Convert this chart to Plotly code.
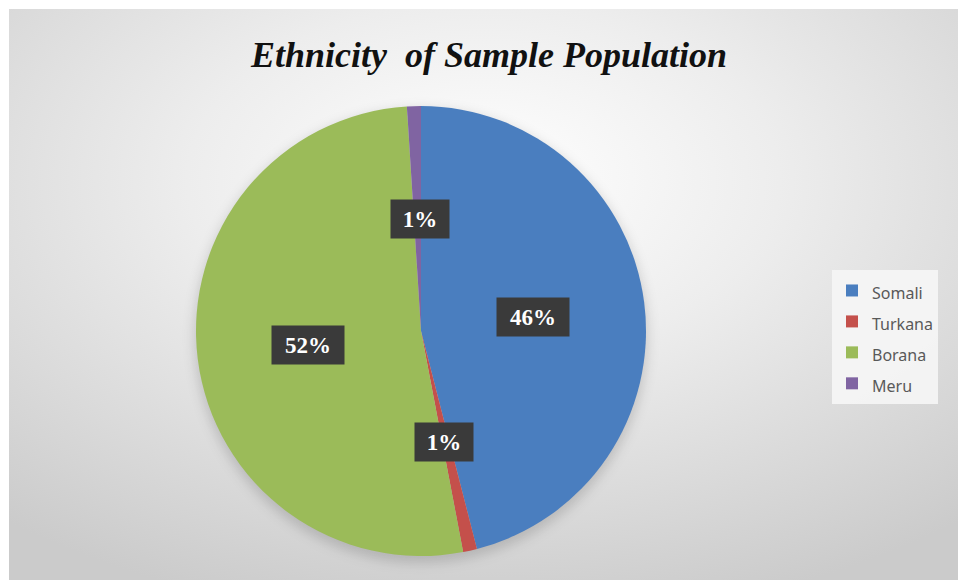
import base64
import plotly.graph_objects as go

# ---- data ----
CATEGORIES = ["Somali", "Turkana", "Borana", "Meru"]
VALUES = [46, 1, 52, 1]
COLORS = ["#4a7ebf", "#c4504b", "#9bbb59", "#8064a2"]
TITLE = "Ethnicity\u00a0 of Sample Population"

# ---- layout (pixels) ----
W, H = 958, 580
PIE_CX, PIE_CY, PIE_R = 421, 331, 225
# centres of the percentage label boxes, same order as CATEGORIES
LABEL_XY = [(533, 317), (444, 442), (308, 345), (420, 219)]

svg = f'''<svg xmlns="http://www.w3.org/2000/svg" width="{W}" height="{H}" viewBox="0 0 {W} {H}" preserveAspectRatio="none">
<defs>
<radialGradient id="g" cx="0.5" cy="0.3" r="0.78">
<stop offset="0" stop-color="#ffffff"/>
<stop offset="0.4" stop-color="#ededed"/>
<stop offset="1" stop-color="#cbcbcb"/>
</radialGradient>
<filter id="b" x="-20%" y="-20%" width="140%" height="140%"><feGaussianBlur stdDeviation="6"/></filter>
</defs>
<rect x="0" y="0" width="{W}" height="{H}" fill="#ffffff"/>
<rect x="9" y="9" width="{W-9}" height="{H-9}" fill="url(#g)"/>
<circle cx="{PIE_CX}" cy="{PIE_CY+5}" r="{PIE_R+2}" fill="#000" fill-opacity="0.15" filter="url(#b)"/>
</svg>'''
bg_src = "data:image/svg+xml;base64," + base64.b64encode(svg.encode()).decode()

total = sum(VALUES)
pcts = [round(v / total * 100) for v in VALUES]
legend_labels = [f"<span style='font-size:16px'>{c}</span>" for c in CATEGORIES]

fig = go.Figure(go.Pie(
    labels=legend_labels,
    values=VALUES,
    sort=False,
    direction="clockwise",
    rotation=0,
    marker=dict(colors=COLORS, line=dict(width=0)),
    textinfo="none",
    hoverinfo="skip",
    domain=dict(x=[(PIE_CX - PIE_R) / W, (PIE_CX + PIE_R) / W],
                y=[1 - (PIE_CY + PIE_R) / H, 1 - (PIE_CY - PIE_R) / H]),
))

annotations = []
for p, (lx, ly) in zip(pcts, LABEL_XY):
    txt = f"{p}%"
    annotations.append(dict(
        text=txt, x=lx / W, y=1 - ly / H, xref="paper", yref="paper",
        xanchor="center", yanchor="middle", showarrow=False,
        bgcolor="#3a3a3a", width=14 * len(txt) + 28, height=36,
        font=dict(family="Liberation Serif", size=23, color="white", weight="bold"),
    ))

fig.update_layout(
    width=W, height=H,
    margin=dict(l=0, r=0, t=0, b=0),
    paper_bgcolor="white",
    images=[dict(source=bg_src, xref="paper", yref="paper", x=0, y=1,
                 sizex=1, sizey=1, sizing="stretch", xanchor="left",
                 yanchor="top", layer="below")],
    title=dict(text=TITLE, x=489 / W, y=1 - 54 / H, xanchor="center",
               yanchor="middle",
               font=dict(family="Liberation Serif", size=36, color="#111111",
                         weight="bold", style="italic")),
    showlegend=True,
    legend=dict(x=832 / W, y=1 - 270 / H, xanchor="left", yanchor="top",
                bgcolor="rgba(244,244,244,0.95)", borderwidth=0,
                itemwidth=30,
                font=dict(family="Noto Sans", size=21.5, color="#595959")),
    annotations=annotations,
)

fig.write_html(
    "out.html",
    config={"displayModeBar": False},
    post_script=("document.body.style.margin='0';"
                 "document.documentElement.style.overflow='hidden';"
                 "document.body.style.overflow='hidden';"),
)
